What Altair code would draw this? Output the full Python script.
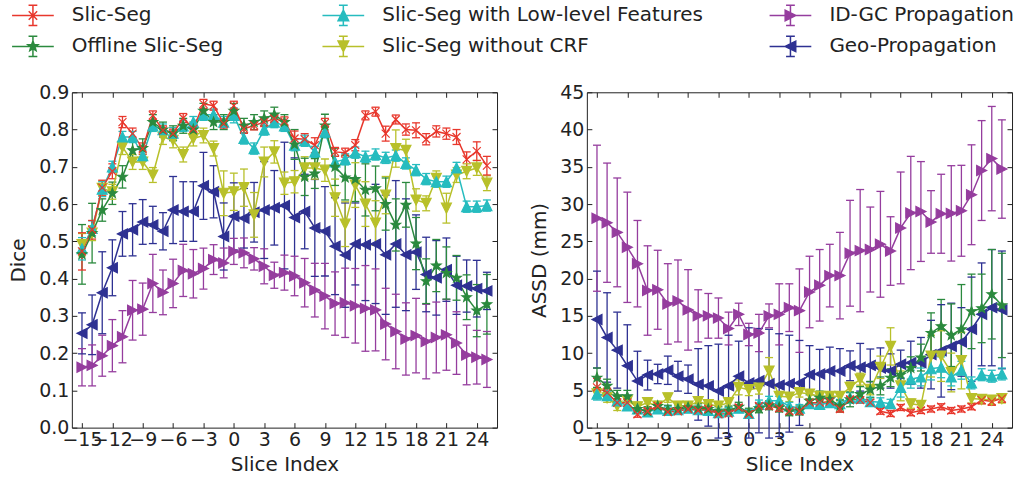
import math
import altair as alt
import pandas as pd

# ---------------- data ----------------
SLICES = list(range(-15, 26))
X_TICKS = list(range(-15, 25, 3))
DICE_TICKS = [round(0.1 * i, 1) for i in range(10)]
ASSD_TICKS = list(range(0, 50, 5))

NAMES = ["Slic-Seg", "Offline Slic-Seg", "Slic-Seg with Low-level Features",
         "Slic-Seg without CRF", "ID-GC Propagation", "Geo-Propagation"]
# legend columns (as in the reference)
LEG_COLUMNS = [["Slic-Seg", "Offline Slic-Seg"],
               ["Slic-Seg with Low-level Features", "Slic-Seg without CRF"],
               ["ID-GC Propagation", "Geo-Propagation"]]
DRAW_ORDER = ["Geo-Propagation", "ID-GC Propagation", "Slic-Seg without CRF",
              "Slic-Seg with Low-level Features", "Offline Slic-Seg", "Slic-Seg"]
COLORS = ["#e8372c", "#2b8a3e", "#26bcbf", "#b8c02a", "#953d9e", "#2e3192"]
MARKERS = ["x", "star", "tri_up", "tri_down", "tri_right", "tri_left"]

# Dice (left panel)
dice_slicseg = [0.473, 0.531, 0.644, 0.688, 0.82, 0.789, 0.749, 0.838, 0.798, 0.789, 0.831,
                0.802, 0.869, 0.864, 0.816, 0.864, 0.802, 0.811, 0.82, 0.829, 0.822, 0.776,
                0.774, 0.758, 0.818, 0.74, 0.738, 0.758, 0.838, 0.848, 0.789, 0.827, 0.80,
                0.798, 0.774, 0.795, 0.789, 0.78, 0.72, 0.742, 0.703]
dice_slicseg_err = [0.05, 0.025, 0.02, 0.02, 0.015, 0.015, 0.015, 0.012, 0.012, 0.012, 0.012,
                    0.012, 0.012, 0.012, 0.012, 0.012, 0.012, 0.012, 0.012, 0.012, 0.012, 0.02,
                    0.015, 0.02, 0.012, 0.012, 0.012, 0.015, 0.012, 0.012, 0.02, 0.012, 0.015,
                    0.02, 0.015, 0.015, 0.015, 0.02, 0.02, 0.025, 0.025]
dice_offline = [0.465, 0.522, 0.584, 0.629, 0.673, 0.744, 0.75, 0.82, 0.80, 0.79, 0.81,
                0.80, 0.85, 0.82, 0.82, 0.85, 0.81, 0.82, 0.83, 0.84, 0.82, 0.76,
                0.673, 0.682, 0.811, 0.70, 0.671, 0.667, 0.638, 0.642, 0.60, 0.544, 0.598,
                0.494, 0.393, 0.435, 0.415, 0.402, 0.35, 0.314, 0.331]
dice_offline_err = [0.08, 0.08, 0.03, 0.03, 0.03, 0.03, 0.025, 0.02, 0.02, 0.02, 0.02,
                    0.02, 0.02, 0.02, 0.02, 0.02, 0.02, 0.02, 0.02, 0.02, 0.02, 0.04,
                    0.05, 0.04, 0.03, 0.05, 0.06, 0.06, 0.07, 0.06, 0.07, 0.07, 0.06,
                    0.07, 0.06, 0.07, 0.07, 0.06, 0.06, 0.07, 0.08]
dice_lowlevel = [0.48, 0.535, 0.64, 0.70, 0.78, 0.78, 0.73, 0.81, 0.80, 0.79, 0.81,
                 0.82, 0.84, 0.84, 0.82, 0.838, 0.776, 0.749, 0.80, 0.82, 0.81, 0.758,
                 0.77, 0.74, 0.793, 0.713, 0.72, 0.738, 0.727, 0.733, 0.724, 0.73, 0.709,
                 0.691, 0.667, 0.66, 0.66, 0.697, 0.593, 0.593, 0.596]
dice_lowlevel_err = [0.03, 0.02, 0.02, 0.015, 0.015, 0.015, 0.015, 0.015, 0.015, 0.015, 0.015,
                     0.015, 0.015, 0.015, 0.015, 0.02, 0.015, 0.015, 0.015, 0.015, 0.015, 0.015,
                     0.015, 0.015, 0.015, 0.015, 0.015, 0.015, 0.015, 0.015, 0.015, 0.015, 0.015,
                     0.015, 0.015, 0.015, 0.015, 0.015, 0.015, 0.015, 0.015]
dice_nocrf = [0.491, 0.522, 0.642, 0.633, 0.753, 0.713, 0.713, 0.678, 0.78, 0.771, 0.733,
              0.776, 0.784, 0.749, 0.629, 0.633, 0.644, 0.571, 0.713, 0.74, 0.656, 0.66,
              0.697, 0.697, 0.691, 0.617, 0.546, 0.651, 0.60, 0.549, 0.624, 0.749, 0.744,
              0.611, 0.602, 0.669, 0.589, 0.678, 0.688, 0.697, 0.656]
dice_nocrf_err = [0.03, 0.02, 0.02, 0.02, 0.02, 0.02, 0.02, 0.02, 0.02, 0.02, 0.02,
                  0.02, 0.02, 0.02, 0.06, 0.05, 0.05, 0.06, 0.04, 0.03, 0.03, 0.03,
                  0.03, 0.03, 0.03, 0.05, 0.06, 0.06, 0.06, 0.06, 0.05, 0.05, 0.03,
                  0.03, 0.02, 0.02, 0.04, 0.02, 0.02, 0.02, 0.02]
dice_idgc = [0.162, 0.167, 0.193, 0.22, 0.244, 0.315, 0.318, 0.387, 0.363, 0.387, 0.422,
             0.413, 0.427, 0.451, 0.442, 0.473, 0.469, 0.453, 0.433, 0.409, 0.416, 0.407,
             0.389, 0.369, 0.353, 0.333, 0.335, 0.327, 0.32, 0.316, 0.278, 0.258, 0.238,
             0.247, 0.231, 0.242, 0.249, 0.227, 0.195, 0.189, 0.183]
dice_idgc_err = [0.05, 0.055, 0.055, 0.07, 0.07, 0.08, 0.07, 0.078, 0.06, 0.065, 0.07,
                 0.065, 0.055, 0.04, 0.04, 0.035, 0.04, 0.03, 0.047, 0.035, 0.047, 0.053,
                 0.065, 0.072, 0.088, 0.085, 0.093, 0.1, 0.115, 0.11, 0.096, 0.1, 0.097,
                 0.1, 0.1, 0.095, 0.095, 0.084, 0.08, 0.072, 0.075]
dice_geo = [0.253, 0.276, 0.362, 0.429, 0.52, 0.531, 0.552, 0.544, 0.527, 0.584, 0.58,
            0.58, 0.649, 0.633, 0.513, 0.567, 0.562, 0.578, 0.584, 0.59, 0.596, 0.564,
            0.58, 0.536, 0.527, 0.487, 0.463, 0.493, 0.491, 0.493, 0.464, 0.493, 0.464,
            0.471, 0.411, 0.402, 0.424, 0.382, 0.38, 0.373, 0.367]
dice_geo_err = [0.055, 0.08, 0.11, 0.075, 0.06, 0.07, 0.06, 0.05, 0.05, 0.09, 0.08,
                0.08, 0.09, 0.07, 0.09, 0.09, 0.08, 0.08, 0.13, 0.10, 0.17, 0.16,
                0.10, 0.13, 0.12, 0.13, 0.14, 0.11, 0.15, 0.16, 0.16, 0.17, 0.15,
                0.10, 0.10, 0.10, 0.085, 0.078, 0.07, 0.076, 0.05]

# ASSD (right panel)
assd_slicseg = [5.4, 4.7, 3.35, 3.35, 1.8, 2.2, 2.9, 2.1, 2.2, 2.5, 2.3,
                2.5, 1.8, 1.9, 2.7, 1.8, 2.9, 2.9, 2.6, 2.2, 2.2, 3.35,
                3.35, 3.5, 2.5, 3.8, 3.7, 3.35, 2.2, 1.9, 2.7, 2.0, 2.3,
                2.5, 2.8, 2.3, 2.5, 2.8, 3.7, 3.5, 3.9]
assd_slicseg_err = [1.2, 0.6, 0.5, 0.5, 0.4, 0.4, 0.4, 0.4, 0.4, 0.4, 0.4,
                    0.4, 0.4, 0.4, 0.4, 0.4, 0.4, 0.4, 0.4, 0.4, 0.4, 0.4,
                    0.4, 0.4, 0.4, 0.4, 0.4, 0.4, 0.4, 0.4, 0.4, 0.4, 0.4,
                    0.4, 0.4, 0.4, 0.4, 0.4, 0.5, 0.5, 0.5]
assd_offline = [6.7, 5.6, 4.2, 4.2, 2.5, 2.2, 2.9, 2.4, 2.5, 2.7, 2.6,
                2.5, 2.2, 2.3, 2.8, 2.0, 2.6, 3.0, 2.7, 2.2, 2.3, 3.6,
                4.0, 3.8, 2.9, 3.8, 4.5, 5.1, 5.6, 6.7, 7.1, 8.0, 9.4,
                12.7, 13.6, 12.4, 13.2, 15.6, 16.0, 17.9, 16.4]
assd_offline_err = [1.3, 0.9, 0.8, 0.8, 0.6, 0.6, 0.6, 0.6, 0.6, 0.6, 0.6,
                    0.6, 0.6, 0.6, 0.6, 0.6, 0.6, 0.6, 0.6, 0.6, 0.6, 0.8,
                    0.9, 0.9, 0.8, 1.0, 1.0, 1.1, 1.2, 1.2, 1.2, 1.5, 1.8,
                    2.7, 3.6, 4.2, 6.0, 5.0, 4.6, 6.0, 7.0]
assd_lowlevel = [4.5, 4.3, 3.6, 2.9, 2.5, 2.1, 2.5, 2.3, 2.4, 2.6, 2.4,
                 2.3, 2.0, 2.2, 2.6, 1.9, 3.1, 3.6, 3.6, 2.9, 2.6, 3.2,
                 3.1, 3.35, 3.2, 4.0, 4.0, 3.5, 3.4, 3.2, 5.4, 6.5, 6.8,
                 7.9, 8.1, 6.8, 7.7, 6.0, 7.1, 6.9, 7.2]
assd_lowlevel_err = [0.8, 0.6, 0.6, 0.5, 0.5, 0.5, 0.5, 0.5, 0.5, 0.5, 0.5,
                     0.5, 0.5, 0.5, 0.5, 0.5, 0.6, 0.6, 0.6, 0.5, 0.5, 0.6,
                     0.6, 0.6, 0.6, 0.7, 0.7, 0.6, 0.6, 0.6, 1.3, 1.2, 1.2,
                     1.5, 1.4, 1.2, 1.2, 0.8, 0.8, 0.8, 0.8]
assd_nocrf = [4.55, 4.0, 2.9, 3.6, 2.8, 3.35, 2.9, 4.0, 2.9, 2.9, 3.5,
              3.1, 2.9, 3.35, 5.4, 5.1, 5.3, 7.6, 4.2, 4.1, 4.7, 4.5,
              4.2, 4.2, 4.2, 5.4, 6.5, 5.1, 8.1, 10.9, 5.6, 3.2, 3.0,
              9.6, 9.6, 7.4, 9.0, 3.9, 3.8, 3.7, 3.9]
assd_nocrf_err = [0.6, 0.6, 0.6, 0.6, 0.6, 0.6, 0.6, 0.6, 0.6, 0.6, 0.6,
                  0.6, 0.6, 0.6, 1.0, 0.8, 0.8, 1.8, 0.6, 0.6, 0.6, 0.6,
                  0.6, 0.6, 0.6, 0.7, 0.8, 0.7, 1.5, 2.5, 2.0, 0.6, 0.6,
                  2.8, 3.4, 2.6, 3.8, 0.6, 0.6, 0.6, 0.6]
assd_idgc = [28.1, 27.5, 26.2, 24.2, 22.0, 18.4, 18.5, 16.6, 17.0, 15.8, 15.0,
             15.0, 14.7, 13.3, 15.2, 12.5, 12.7, 15.0, 15.2, 16.1, 15.7, 18.2,
             19.1, 20.4, 20.4, 23.4, 23.75, 23.9, 24.6, 23.7, 26.8, 28.8, 29.0,
             27.6, 28.7, 28.75, 29.1, 31.25, 34.5, 36.1, 34.7]
assd_idgc_err = [9.8, 8.0, 7.3, 7.4, 5.8, 6.0, 5.3, 5.4, 5.5, 5.4, 3.5,
                 3.0, 2.7, 2.2, 1.5, 1.5, 2.5, 1.6, 4.1, 3.2, 5.6, 4.8,
                 4.8, 4.2, 5.8, 7.1, 8.2, 5.7, 7.1, 4.6, 7.5, 7.6, 6.7,
                 4.2, 5.3, 6.4, 6.1, 6.7, 6.7, 7.0, 6.6]
assd_geo = [14.5, 12.1, 10.4, 8.3, 6.25, 7.05, 7.2, 7.7, 6.9, 6.5, 5.8,
            5.6, 4.9, 5.6, 6.9, 6.0, 6.3, 5.9, 5.7, 5.9, 6.0, 7.1,
            7.2, 7.6, 7.6, 8.3, 8.1, 8.35, 8.0, 7.6, 8.5, 8.7, 8.7,
            9.8, 10.3, 10.9, 11.5, 13.2, 15.2, 16.1, 15.8]
assd_geo_err = [6.5, 6.0, 5.1, 5.5, 4.0, 2.0, 1.3, 1.9, 2.0, 1.9, 4.8,
                5.4, 6.3, 6.8, 4.7, 7.4, 7.0, 7.3, 6.9, 6.5, 5.7, 3.9,
                3.3, 3.2, 3.0, 2.0, 3.2, 2.2, 2.7, 2.3, 1.9, 2.9, 3.4,
                4.6, 6.2, 5.8, 4.6, 7.0, 6.9, 7.8, 7.9]

DICE = dict(zip(NAMES, [(dice_slicseg, dice_slicseg_err), (dice_offline, dice_offline_err),
                        (dice_lowlevel, dice_lowlevel_err), (dice_nocrf, dice_nocrf_err),
                        (dice_idgc, dice_idgc_err), (dice_geo, dice_geo_err)]))
ASSD = dict(zip(NAMES, [(assd_slicseg, assd_slicseg_err), (assd_offline, assd_offline_err),
                        (assd_lowlevel, assd_lowlevel_err), (assd_nocrf, assd_nocrf_err),
                        (assd_idgc, assd_idgc_err), (assd_geo, assd_geo_err)]))
COLOR = dict(zip(NAMES, COLORS))
MARKER = dict(zip(NAMES, MARKERS))


def make_df(table):
    rows = []
    for name in DRAW_ORDER:
        means, errs = table[name]
        for s, m, e in zip(SLICES, means, errs):
            rows.append({"series": name, "s": s, "mean": m, "lo": m - e, "hi": m + e})
    return pd.DataFrame(rows)


# ---------------- marker shapes ----------------
def poly(points, k):
    return "M" + "L".join(f"{x * k:.3f},{y * k:.3f}" for x, y in points) + "Z"


STAR_PTS = []
for i in range(10):
    a = math.radians(-90 + 36 * i)
    r = 1.0 if i % 2 == 0 else 0.42
    STAR_PTS.append((r * math.cos(a), r * math.sin(a)))
SHAPE_PTS = {
    "star": STAR_PTS,
    "tri_up": [(0, -1), (1, 1), (-1, 1)],
    "tri_down": [(0, 1), (1, -1), (-1, -1)],
    "tri_right": [(1, 0), (-1, -1), (-1, 1)],
    "tri_left": [(-1, 0), (1, -1), (1, 1)],
}


def marker_path(name, k):
    kind = MARKER[name]
    if kind == "x":
        r = 0.8 * k
        return f"M{-r:.3f},{-r:.3f}L{r:.3f},{r:.3f}M{-r:.3f},{r:.3f}L{r:.3f},{-r:.3f}"
    return poly(SHAPE_PTS[kind], k)


# legend glyph (unit = 11 px): line + error bar with caps + small marker
LEG_BASE = "M-1.9,0L1.9,0M0,-0.92L0,0.92M-0.4,-0.92L0.4,-0.92M-0.4,0.92L0.4,0.92"
LEG_SYMBOL_SIZE = 484
LEG_X = [-51, 260, 708]   # legend column positions, relative to the left plot area
LEG_Y = -89

FONT = "DejaVu Sans"
TXT = "#222222"
TICK = 5


def panel(df, y_title, y_domain, y_ticks, y_format, with_legend):
    xs = alt.Scale(domain=[-16, 26], nice=False, zero=False)
    ys = alt.Scale(domain=y_domain, nice=False, zero=False)
    cscale = alt.Scale(domain=NAMES, range=[COLOR[n] for n in NAMES])
    sscale = alt.Scale(domain=NAMES, range=[marker_path(n, 1.0) for n in NAMES])
    common = dict(offset=-TICK, tickSize=TICK, domain=False, grid=False, tickColor=TXT,
                  tickWidth=1)
    ax_b = alt.Axis(values=X_TICKS, title="Slice Index", labelPadding=3, labelOverlap=False,
                    labelFlush=False, labelBound=False, labelFont=FONT, labelFontSize=19,
                    labelColor=TXT, titleFont=FONT, titleFontSize=20, titleFontWeight="normal",
                    titleColor=TXT, titlePadding=5, **common)
    ax_t = alt.Axis(orient="top", values=X_TICKS, labels=False, title=None, **common)
    ax_l = alt.Axis(values=y_ticks, format=y_format, title=y_title, labelPadding=3,
                    labelOverlap=False, labelFlush=False, labelFont=FONT, labelFontSize=19,
                    labelColor=TXT, titleFont=FONT, titleFontSize=20, titleFontWeight="normal",
                    titleColor=TXT, titlePadding=10, **common)
    ax_r = alt.Axis(orient="right", values=y_ticks, labels=False, title=None, **common)

    base = alt.Chart(df)
    col = alt.Color("series:N", scale=cscale, legend=None)
    bars = base.mark_rule(strokeWidth=1.3).encode(
        x=alt.X("s:Q", scale=xs, axis=ax_b),
        y=alt.Y("lo:Q", scale=ys, axis=ax_l),
        y2=alt.Y2("hi:Q"),
        color=col,
    )
    caps = base.transform_fold(["lo", "hi"], as_=["end", "yv"]).mark_tick(
        orient="horizontal", size=8, thickness=1.3, opacity=1
    ).encode(
        x=alt.X("s:Q", scale=xs, axis=ax_t),
        y=alt.Y("yv:Q", scale=ys, axis=ax_r),
        color=col,
    )
    lines = base.mark_line(strokeWidth=1.5).encode(
        x=alt.X("s:Q", scale=xs, axis=None),
        y=alt.Y("mean:Q", scale=ys, axis=None),
        color=col,
    )
    points = base.mark_point(filled=True, size=100, opacity=1, strokeWidth=1.2).encode(
        x=alt.X("s:Q", scale=xs, axis=None),
        y=alt.Y("mean:Q", scale=ys, axis=None),
        shape=alt.Shape("series:N", scale=sscale, legend=None),
        fill=alt.Fill("series:N", scale=cscale, legend=None),
        stroke=alt.Stroke("series:N", scale=cscale, legend=None),
    )
    layers = [bars, caps, lines, points]
    if with_legend:
        for names, lx in zip(LEG_COLUMNS, LEG_X):
            leg = alt.Legend(
                title=None, orient="none", legendX=lx, legendY=LEG_Y, direction="vertical",
                symbolSize=LEG_SYMBOL_SIZE, symbolStrokeWidth=1.5, symbolOpacity=1,
                labelFont=FONT, labelFontSize=20, labelColor=TXT, labelOffset=27,
                labelLimit=500, rowPadding=3, padding=0,
            )
            cs = alt.Scale(domain=names, range=[COLOR[n] for n in names])
            ls = alt.Scale(domain=names,
                           range=[LEG_BASE + marker_path(n, 0.48) for n in names])
            leg_layer = base.transform_filter(
                alt.FieldOneOfPredicate(field="series", oneOf=names)
            ).transform_filter("datum.s > 1000").mark_point(
                filled=True, size=LEG_SYMBOL_SIZE, opacity=1, strokeWidth=1.5
            ).encode(
                x=alt.X("s:Q", scale=xs, axis=None),
                y=alt.Y("mean:Q", scale=ys, axis=None),
                shape=alt.Shape("series:N", scale=ls, legend=leg),
                fill=alt.Fill("series:N", scale=cs, legend=leg),
                stroke=alt.Stroke("series:N", scale=cs, legend=leg),
            )
            layers.append(leg_layer)
    lay = alt.layer(*layers).resolve_axis(x="independent", y="independent")
    if with_legend:
        lay = lay.resolve_scale(shape="independent", fill="independent", stroke="independent")
    return lay.properties(width=426, height=336)


left = panel(make_df(DICE), "Dice", [0, 0.9], DICE_TICKS, ".1f", True)
right = panel(make_df(ASSD), "ASSD (mm)", [0, 45], ASSD_TICKS, "d", False)

chart = alt.hconcat(left, right, spacing=90, bounds="flush").resolve_scale(
    color="independent", fill="independent", stroke="independent", shape="independent"
).properties(
    padding={"left": 8, "top": 2, "right": 5, "bottom": 4},
    background="white",
).configure_view(stroke=TXT, strokeWidth=1)

chart.save("out.html", embed_options={"renderer": "svg", "actions": False})
